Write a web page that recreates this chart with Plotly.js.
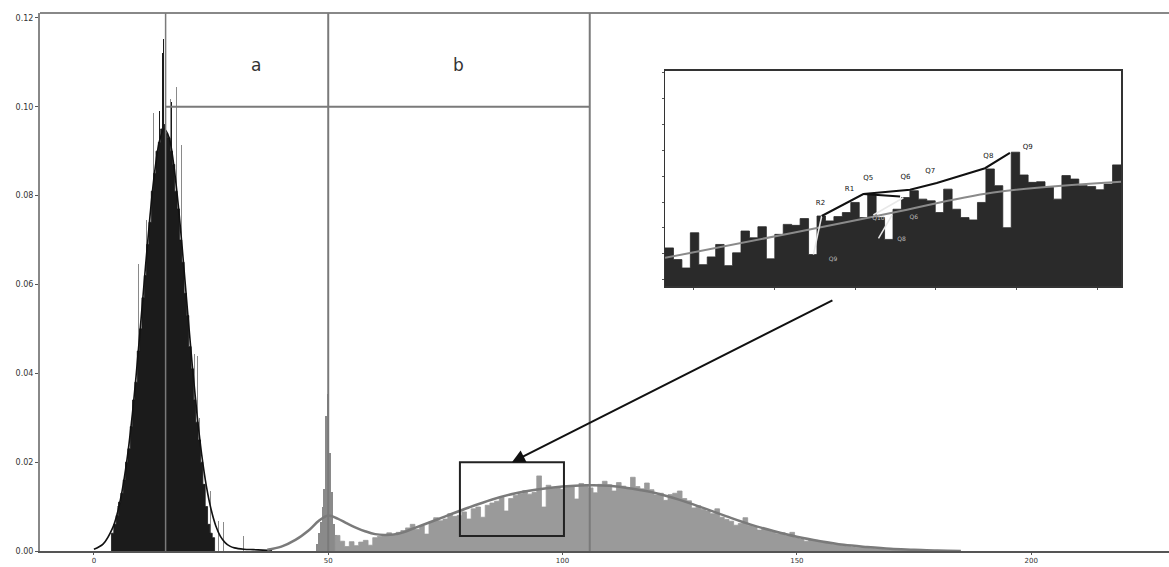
<!DOCTYPE html>
<html>
<head>
<meta charset="utf-8">
<script src="https://cdn.plot.ly/plotly-3.0.1.min.js"></script>
<style>html,body{margin:0;padding:0;background:#fff;}#chart{width:1169px;height:567px;}</style>
</head>
<body>
<div id="chart"></div>
<script>
// ---------- data ----------
// black histogram (group a), bins of 0.5 centred from 4.0
const blackBinStart = 4.0;
const blackBinWidth = 0.5;
const blackValues = [0.004,0.006,0.008,0.011,0.013,0.016,0.020,0.023,0.028,0.034,0.038,0.045,0.050,0.057,0.062,0.069,0.074,0.081,0.085,0.090,0.092,0.095,0.096,0.094,0.093,0.090,0.087,0.081,0.077,0.070,0.065,0.058,0.053,0.046,0.041,0.034,0.029,0.025,0.020,0.015,0.010,0.006,0.004,0.003];
// thin spikes sticking out of the black histogram
const spikeX = [2.8,5.1,9.6,11.2,12.8,14.0,14.6,14.9,15.3,16.3,16.6,17.6,18.7,21.5,22.2,22.6,24.8,26.5,27.7,32.0];
const spikeY = [0.0034,0.0101,0.0645,0.0746,0.0987,0.099,0.112,0.1153,0.123,0.1018,0.101,0.1045,0.0915,0.0443,0.0438,0.030,0.0135,0.0067,0.0065,0.0034];
const spikeTone = ['g','g','g','g','g','k','k','k','g','g','k','g','g','g','g','g','g','g','g','g'];
// black density curve
const blackCurveX = [0,2,4,5,6,7,8,9,10,11,12,13,14,15,16,17,18,19,20,21,22,23,24,25,26,27,28,29,30,32,34,36,38];
const blackCurveY = [0.0004,0.0016,0.0052,0.0085,0.0134,0.0201,0.0288,0.0394,0.0514,0.0639,0.0757,0.0856,0.0923,0.095,0.0932,0.0872,0.0779,0.0663,0.0538,0.0417,0.0308,0.0217,0.0146,0.0094,0.0057,0.0033,0.0019,0.0011,0.0007,0.0004,0.0003,0.0002,0.0001];
// grey cluster around 50
const clusterX = [47.6,48.0,48.4,48.8,49.2,49.6,50.0,50.4,50.8,51.2,51.6];
const clusterY = [0.0015,0.004,0.0065,0.0099,0.014,0.0303,0.0353,0.022,0.0133,0.006,0.0035];
// grey histogram (group b), bins of 1 centred from 52
const greyBinStart = 52;
const greyBinWidth = 1;
const greyValues = [0.0035,0.0022,0.0010,0.0021,0.0012,0.0020,0.0024,0.0013,0.0030,0.0033,
0.0036,0.0041,0.0035,0.0042,0.0046,0.0052,0.0060,0.0049,0.0057,0.0038,
0.0066,0.0075,0.0068,0.0072,0.0084,0.0078,0.0080,0.0088,0.0072,0.0095,
0.0099,0.0076,0.0103,0.0108,0.0112,0.0121,0.0090,0.0118,0.0125,0.0129,
0.0136,0.0128,0.0132,0.0169,0.0099,0.0148,0.0141,0.0144,0.0139,0.0145,
0.0147,0.0117,0.0152,0.0148,0.0142,0.0131,0.0150,0.0157,0.0149,0.0135,
0.0154,0.0146,0.0140,0.0166,0.0145,0.0140,0.0153,0.0138,0.0126,0.0130,
0.0114,0.0127,0.0130,0.0135,0.0118,0.0113,0.0097,0.0102,0.0094,0.0090,
0.0084,0.0095,0.0076,0.0071,0.0067,0.0058,0.0062,0.0075,0.0058,0.0055,
0.0047,0.0050,0.0047,0.0043,0.0039,0.0041,0.0035,0.0042,0.0030,0.0027,
0.0022,0.0025,0.0024,0.0021,0.0019,0.0017,0.0015,0.0014,0.0012,0.0010,
0.0009,0.0008,0.0008,0.0010,0.0006,0.0005,0.0006,0.0004,0.0004,0.0003,
0.0003,0.0002,0.0002,0.0001,0.0001,0.0001,0.0001,0.0001,0.00005];
// grey density curve
const greyCurveX = [37,40,43,46,48,50,52,54,56,58,60,62,64,66,68,70,75,80,85,90,95,100,105,110,115,120,125,130,135,140,145,150,155,160,165,170,175,180,185];
const greyCurveY = [0.0003,0.001,0.0025,0.0048,0.0068,0.008,0.0073,0.0062,0.0052,0.0044,0.0038,0.0036,0.0037,0.0042,0.005,0.0058,0.0078,0.0098,0.0116,0.013,0.0139,0.0145,0.0148,0.0147,0.014,0.013,0.0115,0.0097,0.0078,0.006,0.0045,0.0032,0.0022,0.0014,0.0009,0.0005,0.0003,0.0001,0];
// group boundaries
const boundaryX = [15.3, 50, 105.8];
const boundaryY = 0.10;
const groupLabels = ['a','b'];
// inset: zoomed view of the boxed region
const insetRangeX = [78, 100];
const insetRangeY = [0.003, 0.0205];
const insetValues = [0.00613,0.00518,0.0045,0.00736,0.00477,0.0054,0.00641,0.00469,0.00573,0.0075,
0.00695,0.00785,0.00524,0.00723,0.00804,0.00796,0.00851,0.00559,0.00872,0.00832,
0.00867,0.009,0.00982,0.00859,0.0105,0.00859,0.00682,0.00927,0.01022,0.01077,
0.01009,0.00995,0.009,0.0109,0.00927,0.00859,0.0084,0.00982,0.01254,0.01118,
0.00777,0.0139,0.01205,0.01145,0.0115,0.01104,0.01009,0.012,0.01172,0.01118,
0.01112,0.01085,0.01131,0.01287];
const insetTrendX = [78,84.19,89.02,93.84,100];
const insetTrendY = [0.00532,0.00736,0.009,0.01063,0.0115];
const insetPathX = [85.56,87.57,89.82,91.11,93.44,94.64];
const insetPathY = [0.00872,0.0105,0.01085,0.0114,0.0126,0.01385];
const insetStubX = [87.57,89.34];
const insetStubY = [0.0105,0.0103];
const insetWhite1X = [85.16,85.56], insetWhite1Y = [0.00559,0.00872];
const insetWhite2X = [88.05,89.5],  insetWhite2Y = [0.0088,0.0102];
const insetWhite3X = [88.3,88.95],  insetWhite3Y = [0.0069,0.0088];
const insetLabels = ['R2','R1','Q5','Q6','Q7','Q8','Q9'];
const insetLabelX = [85.5,86.9,87.8,89.6,90.8,93.6,95.5];
const insetLabelY = [0.0095,0.0106,0.0115,0.0116,0.0121,0.0133,0.0140];
const insetGreyLabels = ['Q9','Q8','Q10','Q6'];
const insetGreyLabelX = [85.9,89.2,88.0,89.8];
const insetGreyLabelY = [0.0052,0.0068,0.0085,0.0086];
// boxed region + arrow
const boxX = [78.1, 100.3];
const boxY = [0.0034, 0.0200];
const arrowTail = [157.9, 0.0566];
const arrowHead = [89.2, 0.0200];

// ---------- helpers: histogram as a filled step outline ----------
function stepOutline(start, width, values, centred) {
  const off = centred ? width / 2 : 0;
  const xs = values.map((_, i) => start - off + i * width);
  const ys = values.slice();
  xs.push(start - off + values.length * width);
  ys.push(values[values.length - 1]);
  xs.unshift(xs[0]); ys.unshift(0);
  xs.push(xs[xs.length - 1]); ys.push(0);
  return {x: xs, y: ys};
}
const blackStep = stepOutline(blackBinStart, blackBinWidth, blackValues, true);
const greyStep = stepOutline(greyBinStart, greyBinWidth, greyValues, true);
const insetW = (insetRangeX[1] - insetRangeX[0]) / insetValues.length;
const insetStep = stepOutline(insetRangeX[0], insetW, insetValues, false);

const blackCol = '#1b1b1b', greyCol = '#9a9a9a';
const traces = [
  {type:'scatter', mode:'lines', x:greyStep.x, y:greyStep.y, line:{shape:'hv', color:greyCol, width:0.8}, fill:'tozeroy', fillcolor:greyCol, hoverinfo:'skip'},
  {type:'bar', x:clusterX, y:clusterY, width:0.45, marker:{color:'#8a8a8a', line:{width:0}}, hoverinfo:'skip'},
  {type:'scatter', mode:'lines', x:blackStep.x, y:blackStep.y, line:{shape:'hv', color:blackCol, width:0.8}, fill:'tozeroy', fillcolor:blackCol, hoverinfo:'skip'},
  {type:'bar', x:spikeX, y:spikeY, width:0.2, marker:{color:spikeTone.map(t => t === 'k' ? blackCol : '#8a8a8a'), line:{width:0}}, hoverinfo:'skip'},
  {type:'scatter', mode:'lines', x:blackCurveX, y:blackCurveY, line:{color:'#111', width:1.6, shape:'spline'}, hoverinfo:'skip'},
  {type:'scatter', mode:'lines', x:greyCurveX, y:greyCurveY, line:{color:'#7a7a7a', width:2.5, shape:'spline'}, hoverinfo:'skip'},
  // inset
  {type:'scatter', mode:'lines', x:insetStep.x, y:insetStep.y.map(v => Math.max(v, insetRangeY[0] - 0.001)), xaxis:'x2', yaxis:'y2', line:{shape:'hv', color:'#2a2a2a', width:0.8}, fill:'tozeroy', fillcolor:'#2a2a2a', hoverinfo:'skip'},
  {type:'scatter', mode:'lines', x:insetTrendX, y:insetTrendY, xaxis:'x2', yaxis:'y2', line:{color:'#8a8a8a', width:2, shape:'spline'}, hoverinfo:'skip'},
  {type:'scatter', mode:'lines', x:insetWhite1X, y:insetWhite1Y, xaxis:'x2', yaxis:'y2', line:{color:'#e8e8e8', width:1.5}, hoverinfo:'skip'},
  {type:'scatter', mode:'lines', x:insetWhite2X, y:insetWhite2Y, xaxis:'x2', yaxis:'y2', line:{color:'#e8e8e8', width:1.5}, hoverinfo:'skip'},
  {type:'scatter', mode:'lines', x:insetWhite3X, y:insetWhite3Y, xaxis:'x2', yaxis:'y2', line:{color:'#e8e8e8', width:1.5}, hoverinfo:'skip'},
  {type:'scatter', mode:'lines', x:insetPathX, y:insetPathY, xaxis:'x2', yaxis:'y2', line:{color:'#111', width:2}, hoverinfo:'skip'},
  {type:'scatter', mode:'lines', x:insetStubX, y:insetStubY, xaxis:'x2', yaxis:'y2', line:{color:'#111', width:2}, hoverinfo:'skip'},
  {type:'scatter', mode:'text', x:insetLabelX, y:insetLabelY, text:insetLabels, textposition:'top center', xaxis:'x2', yaxis:'y2', textfont:{family:'DejaVu Sans, sans-serif', size:7, color:'#111111'}, hoverinfo:'skip'},
  {type:'scatter', mode:'text', x:insetGreyLabelX, y:insetGreyLabelY, text:insetGreyLabels, textposition:'middle right', xaxis:'x2', yaxis:'y2', textfont:{family:'DejaVu Sans, sans-serif', size:6, color:'#bdbdbd'}, hoverinfo:'skip'}
];

// ---------- layout ----------
const lineCol = '#7a7a7a';
const shapes = [
  {type:'line', xref:'paper', yref:'paper', x0:0, x1:1, y0:1, y1:1, line:{color:'#888', width:2}},
  {type:'line', xref:'x', yref:'paper', x0:boundaryX[0], x1:boundaryX[0], y0:0, y1:1, line:{color:lineCol, width:1.5}},
  {type:'line', xref:'x', yref:'paper', x0:boundaryX[1], x1:boundaryX[1], y0:0, y1:1, line:{color:lineCol, width:2}},
  {type:'line', xref:'x', yref:'paper', x0:boundaryX[2], x1:boundaryX[2], y0:0, y1:1, line:{color:lineCol, width:2}},
  {type:'line', xref:'x', yref:'y', x0:boundaryX[0], x1:boundaryX[2], y0:boundaryY, y1:boundaryY, line:{color:lineCol, width:2}},
  {type:'rect', xref:'x', yref:'y', x0:boxX[0], x1:boxX[1], y0:boxY[0], y1:boxY[1], line:{color:'#222', width:2}, fillcolor:'rgba(0,0,0,0)'}
];
const annotations = [
  {xref:'x', yref:'y', x:(boundaryX[0]+boundaryX[1])/2 + 2, y:0.1095, text:groupLabels[0], showarrow:false, font:{family:'DejaVu Sans, sans-serif', size:17, color:'#333'}},
  {xref:'x', yref:'y', x:(boundaryX[1]+boundaryX[2])/2, y:0.1095, text:groupLabels[1], showarrow:false, font:{family:'DejaVu Sans, sans-serif', size:17, color:'#333'}},
  {xref:'x', yref:'y', x:arrowHead[0], y:arrowHead[1], axref:'x', ayref:'y', ax:arrowTail[0], ay:arrowTail[1], text:'', showarrow:true, arrowhead:2, arrowsize:1.3, arrowwidth:2, arrowcolor:'#111'}
];

const layout = {
  width:1169, height:567,
  margin:{l:40, r:0, t:13, b:16, pad:0},
  paper_bgcolor:'#fff', plot_bgcolor:'#fff',
  showlegend:false, barmode:'overlay', bargap:0,
  font:{family:'DejaVu Sans, sans-serif', size:8, color:'#333'},
  xaxis:{range:[-11.5, 229.4], showgrid:false, zeroline:false, showline:true, linecolor:'#555', linewidth:2,
         ticks:'outside', ticklen:2, tickcolor:'#555', tickvals:[0,50,100,150,200], ticktext:['0','50','100','150','200'],
         tickfont:{size:7, color:'#333'}, automargin:false, fixedrange:true},
  yaxis:{range:[0, 0.1211], showgrid:false, zeroline:false, showline:true, linecolor:'#888', linewidth:2,
         ticks:'outside', ticklen:3, tickcolor:'#555', tickvals:[0,0.02,0.04,0.06,0.08,0.10,0.12], tickformat:'.2f',
         tickfont:{size:8, color:'#333'}, automargin:false, fixedrange:true},
  xaxis2:{domain:[0.5536, 0.9575], anchor:'y2', range:insetRangeX, showgrid:false, zeroline:false, showline:true, mirror:true,
          linecolor:'#333', linewidth:1.5, ticks:'outside', ticklen:2, tickcolor:'#555', tick0:79.37, dtick:3.9, showticklabels:false, fixedrange:true},
  yaxis2:{domain:[0.4917, 0.8924], anchor:'x2', range:insetRangeY, showgrid:false, zeroline:false, showline:true, mirror:true,
          linecolor:'#333', linewidth:1.5, ticks:'outside', ticklen:2, tickcolor:'#555', tick0:0.00355, dtick:0.0021, showticklabels:false, fixedrange:true},
  shapes:shapes,
  annotations:annotations
};

Plotly.newPlot('chart', traces, layout, {displayModeBar:false, staticPlot:true});
</script>
</body>
</html>
